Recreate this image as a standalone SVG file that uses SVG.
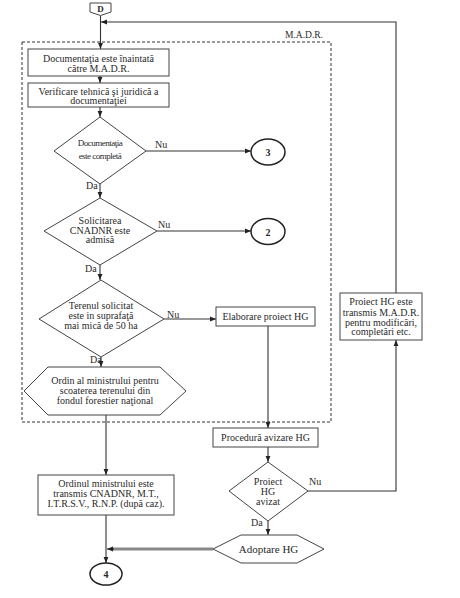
<svg xmlns="http://www.w3.org/2000/svg" width="460" height="598" viewBox="0 0 460 598">
<defs>
<marker id="ah" viewBox="0 0 10 10" refX="10" refY="5" markerWidth="6" markerHeight="6" orient="auto" markerUnits="userSpaceOnUse"><path d="M0,1 L10,5 L0,9 z" fill="#222"/></marker>
</defs>
<style>
.s{fill:#fff;stroke:#444;stroke-width:1}
.b{fill:#fff;stroke:#222;stroke-width:1.5}
.c{fill:none;stroke:#333;stroke-width:1.1}
text{font-family:"Liberation Serif","Times New Roman",serif;font-size:10px;fill:#2a2a2a;text-anchor:middle}
.l{text-anchor:start}
.bold{font-weight:bold}
</style>
<rect width="460" height="598" fill="#fff"/>
<g id="madr">
<rect x="22" y="42" width="309" height="380" fill="none" stroke="#333" stroke-width="1" stroke-dasharray="3,2"/>
<text x="323" y="38" style="text-anchor:end;font-size:9.5px">M.A.D.R.</text>
</g>
<g id="connectors">
<path class="c" d="M100.5,15.5 V49" marker-end="url(#ah)"/>
<path class="c" d="M396,293 V22 H101" marker-end="url(#ah)"/>
<path class="c" d="M100,76 V83" marker-end="url(#ah)"/>
<path class="c" d="M100,107 V117" marker-end="url(#ah)"/>
<path class="c" d="M146,151 H251" marker-end="url(#ah)"/>
<path class="c" d="M100,184 V198" marker-end="url(#ah)"/>
<path class="c" d="M157,231 H251" marker-end="url(#ah)"/>
<path class="c" d="M100,265 V280" marker-end="url(#ah)"/>
<path class="c" d="M164,319 H216" marker-end="url(#ah)"/>
<path class="c" d="M101,357 V367" marker-end="url(#ah)"/>
<path class="c" d="M106,415 V475" marker-end="url(#ah)"/>
<path class="c" d="M106,515 V563" marker-end="url(#ah)"/>
<path d="M213,549 H112" fill="none" stroke="#888" stroke-width="3"/>
<path class="c" d="M114,549 H107" marker-end="url(#ah)"/>
<path class="c" d="M268,326 V428" marker-end="url(#ah)"/>
<path class="c" d="M268,447 V462" marker-end="url(#ah)"/>
<path class="c" d="M308,491 H396 V340" marker-end="url(#ah)"/>
<path class="c" d="M268,521 V535" marker-end="url(#ah)"/>
<text class="l" x="155" y="148">Nu</text>
<text class="l" x="86" y="188.5">Da</text>
<text class="l" x="158" y="228">Nu</text>
<text class="l" x="85" y="271.5">Da</text>
<text class="l" x="167" y="317.5">Nu</text>
<text class="l" x="90" y="363">Da</text>
<text class="l" x="309" y="485">Nu</text>
<text class="l" x="251" y="526">Da</text>
</g>
<g id="D">
<polygon class="s" points="90,3 111,3 111,12 100.5,15.5 90,12"/>
<text class="bold" x="100.5" y="11.5" style="font-size:9px">D</text>
</g>
<g id="box1">
<rect class="s" x="28" y="49" width="141" height="27"/>
<text x="98.5" y="61.5">Documentaţia este înaintată</text>
<text x="98.5" y="71.5">către M.A.D.R.</text>
</g>
<g id="box2">
<rect class="s" x="28" y="83" width="141" height="24"/>
<text x="98.5" y="94.5">Verificare tehnică şi juridică a</text>
<text x="98.5" y="104">documentaţiei</text>
</g>
<g id="d1">
<polygon class="s" points="100,117 146,151 100,184 54,151"/>
<text x="100" y="146" style="font-size:9px;letter-spacing:-0.5px">Documentaţia</text>
<text x="100" y="158.5" style="font-size:9px;letter-spacing:-0.5px">este completă</text>
</g>
<g id="c3">
<ellipse class="b" cx="268" cy="152" rx="17" ry="13"/>
<text class="bold" x="268" y="156">3</text>
</g>
<g id="d2">
<polygon class="s" points="100,198 157,231 100,265 44,231"/>
<text x="100" y="223.5">Solicitarea</text>
<text x="100" y="233.5">CNADNR este</text>
<text x="100" y="243">admisă</text>
</g>
<g id="c2">
<ellipse class="b" cx="268" cy="231.5" rx="17" ry="13"/>
<text class="bold" x="268" y="235.5">2</text>
</g>
<g id="d3">
<polygon class="s" points="101,280 164,319 101,357 39,319"/>
<text x="101" y="309">Terenul solicitat</text>
<text x="101" y="318.5">este in suprafaţă</text>
<text x="101" y="328.5">mai mică de 50 ha</text>
</g>
<g id="elab">
<rect class="s" x="216" y="307" width="99" height="19"/>
<text x="265.5" y="319.5">Elaborare proiect HG</text>
</g>
<g id="ordin">
<polygon class="s" points="24,391 48,367 160,367 186,391 160,415 48,415"/>
<text x="105" y="383.5">Ordin al ministrului pentru</text>
<text x="105" y="393.5">scoaterea terenului din</text>
<text x="105" y="403.5">fondul forestier naţional</text>
</g>
<g id="transmis">
<rect class="s" x="340" y="293" width="82" height="47"/>
<text x="381" y="305">Proiect HG este</text>
<text x="381" y="315.5">transmis M.A.D.R.</text>
<text x="381" y="325.5">pentru modificări,</text>
<text x="381" y="335">completări etc.</text>
</g>
<g id="proc">
<rect class="s" x="213" y="428" width="105" height="19"/>
<text x="265.5" y="441">Procedură avizare HG</text>
</g>
<g id="d4">
<polygon class="s" points="268,462 308,491 268,521 229,491"/>
<text x="268" y="485">Proiect</text>
<text x="268" y="495">HG</text>
<text x="268" y="505">avizat</text>
</g>
<g id="ordinul">
<rect class="s" x="38" y="475" width="136" height="40"/>
<text x="106" y="486.5">Ordinul ministrului este</text>
<text x="106" y="496.5">transmis CNADNR, M.T.,</text>
<text x="106" y="506.5">I.T.R.S.V., R.N.P. (după caz).</text>
</g>
<g id="adopt">
<polygon class="s" points="213,549 241,535 297,535 324,549 297,563 241,563"/>
<text x="268.5" y="553" style="font-size:11px">Adoptare HG</text>
</g>
<g id="c4">
<ellipse class="b" cx="106" cy="574" rx="16" ry="11"/>
<text class="bold" x="106" y="578">4</text>
</g>
</svg>
